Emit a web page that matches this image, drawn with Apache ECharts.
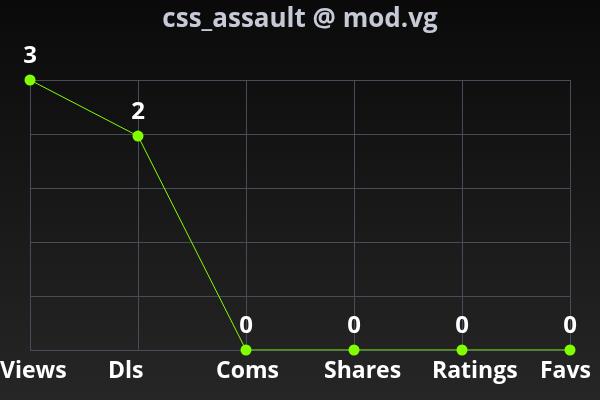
<!DOCTYPE html>
<html><head><meta charset="utf-8">
<script src="https://cdn.jsdelivr.net/npm/echarts@6/dist/echarts.min.js"></script>
<style>html,body{margin:0;padding:0;background:#000}#c{width:600px;height:400px}</style>
</head><body><div id="c"></div>
<script>
const titleText = "css_assault @ mod.vg";
const categories = ["Views", "Dls", "Coms", "Shares", "Ratings", "Favs"];
const values = [3, 2, 0, 0, 0, 0];

const scaled = values.map(v => Math.log(1 + v));
const maxV = Math.log(1 + Math.max(...values));
const chart = echarts.init(document.getElementById('c'), null, {renderer: 'canvas'});
chart.setOption({
  backgroundColor: new echarts.graphic.LinearGradient(0, 0, 0, 1, [
    {offset: 0, color: '#0a0a0a'}, {offset: 1, color: '#262626'}
  ]),
  animation: false,
  title: {
    text: titleText, left: 'center', top: 2,
    textStyle: {color: '#c5cad6', fontFamily: 'Open Sans', fontWeight: 'bold', fontSize: 26}
  },
  grid: {left: 30, right: 30, top: 80, bottom: 50, containLabel: false, outerBoundsMode: 'none'},
  xAxis: {
    type: 'category', data: categories, boundaryGap: false,
    axisLine: {show: false}, axisTick: {show: false},
    axisLabel: {color: '#ffffff', fontFamily: 'Open Sans', fontWeight: 'bold', fontSize: 23, margin: 10, interval: 0,
      align: 'left', padding: [0, 0, 0, -30]},
    splitLine: {show: true, lineStyle: {color: '#474d58', width: 1}}
  },
  yAxis: {
    type: 'value', min: 0, max: maxV, interval: maxV / 5,
    axisLabel: {show: false}, axisLine: {show: false}, axisTick: {show: false},
    splitLine: {show: true, lineStyle: {color: '#474d58', width: 1}}
  },
  series: [{
    type: 'line', data: scaled,
    symbol: 'circle', symbolSize: 11,
    itemStyle: {color: '#7fff00'},
    lineStyle: {color: '#7fff00', width: 1},
    label: {
      show: true, position: 'top', distance: 6,
      color: '#ffffff', fontFamily: 'Open Sans', fontWeight: 'bold', fontSize: 24,
      formatter: p => String(values[p.dataIndex])
    }
  }]
});
</script></body></html>
